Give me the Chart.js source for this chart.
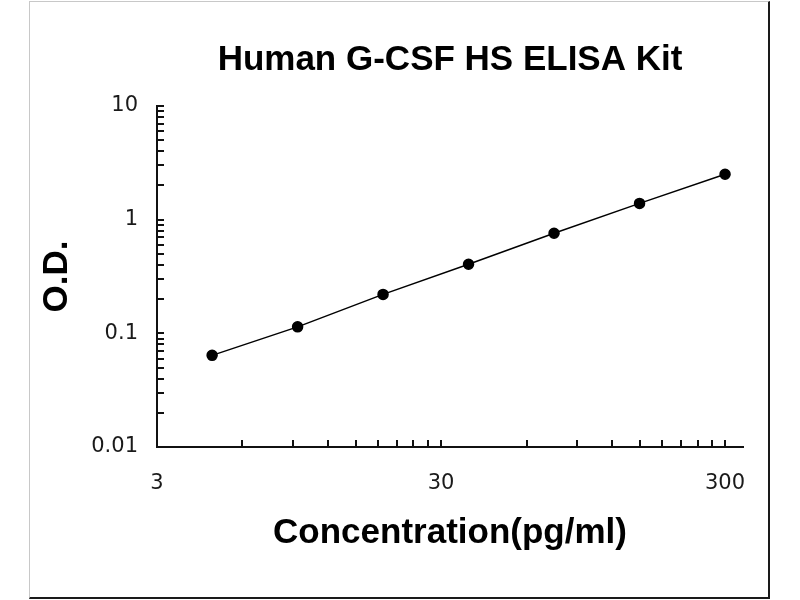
<!DOCTYPE html>
<html>
<head>
<meta charset="utf-8">
<script src="https://cdn.jsdelivr.net/npm/chart.js@4.4.1/dist/chart.umd.min.js"></script>
<style>
  body { margin: 0; background: #fff; }
  .wrap { position: relative; width: 800px; height: 600px; }
  .frame {
    position: absolute; left: 29px; top: 1px; width: 738px; height: 595px;
    border-left: 1px solid #c8c8c8; border-top: 1px solid #c8c8c8;
    border-right: 2px solid #1a1a1a; border-bottom: 2px solid #1a1a1a;
    pointer-events: none;
  }
</style>
</head>
<body>
<div class="wrap">
  <canvas id="curve" width="800" height="600"></canvas>
  <div class="frame"></div>
</div>
<script>
// standard curve
const concentrations = [4.69, 9.38, 18.75, 37.5, 75, 150, 300];
const odValues = [0.064, 0.114, 0.22, 0.405, 0.76, 1.39, 2.51];

// tick labels shown on the axes
const xTickLabels = [3, 30, 300];
const yTickLabels = [0.01, 0.1, 1, 10];

// minor tick marks, Excel style (multiples of the first label in each decade)
const xTickValues = [];
xTickLabels.forEach((base, i) => {
  xTickValues.push(base);
  if (i < xTickLabels.length - 1) {
    for (let k = 2; k <= 9; k++) xTickValues.push(base * k);
  }
});
const yTickValues = [];
yTickLabels.forEach((base, i) => {
  yTickValues.push(base);
  if (i < yTickLabels.length - 1) {
    for (let k = 2; k <= 9; k++) yTickValues.push(base * k);
  }
});

const axisColor = '#111';
const labelFont = { family: 'DejaVu Sans', size: 21 };
const titleFont = { family: "'Liberation Sans', Arial, sans-serif", size: 35, weight: 'bold' };

// tick marks point into the plot area, so draw them here from the scales
const innerTicks = {
  id: 'innerTicks',
  afterDatasetsDraw(chart) {
    const { ctx, chartArea, scales } = chart;
    const len = 7;
    ctx.save();
    ctx.strokeStyle = axisColor;
    ctx.lineWidth = 2;
    ctx.beginPath();
    xTickValues.forEach((v) => {
      const px = Math.round(scales.x.getPixelForValue(v));
      ctx.moveTo(px, chartArea.bottom);
      ctx.lineTo(px, chartArea.bottom - len);
    });
    yTickValues.forEach((v) => {
      const py = Math.round(scales.y.getPixelForValue(v));
      ctx.moveTo(chartArea.left, py);
      ctx.lineTo(chartArea.left + len, py);
    });
    ctx.stroke();
    ctx.restore();
  },
};

const makeTicks = (values) => (scale) => {
  scale.ticks = values.map((v) => ({ value: v }));
};

new Chart(document.getElementById('curve'), {
  type: 'line',
  data: {
    datasets: [
      {
        label: 'Human G-CSF HS',
        data: concentrations.map((c, i) => ({ x: c, y: odValues[i] })),
        borderColor: '#000',
        borderWidth: 1.5,
        backgroundColor: '#000',
        pointBackgroundColor: '#000',
        pointBorderColor: '#000',
        pointRadius: 5,
        tension: 0,
      },
    ],
  },
  options: {
    responsive: false,
    animation: false,
    devicePixelRatio: 1,
    layout: { padding: { left: 0, right: 57, top: 0, bottom: 0 } },
    plugins: {
      legend: { display: false },
      tooltip: { enabled: false },
      title: {
        display: true,
        text: 'Human G-CSF HS ELISA Kit',
        color: '#000',
        font: titleFont,
        fullSize: false,
        padding: { top: 39, bottom: 25 },
      },
    },
    scales: {
      x: {
        type: 'logarithmic',
        min: 3,
        max: 347,
        afterBuildTicks: makeTicks(xTickValues),
        afterFit: (scale) => { scale.height = 153; },
        grid: { display: false, drawTicks: false },
        border: { display: true, color: axisColor, width: 2 },
        ticks: {
          autoSkip: false,
          maxRotation: 0,
          padding: 24,
          color: '#1a1a1a',
          font: labelFont,
          callback: (value) => (xTickLabels.includes(value) ? String(value) : ''),
        },
        title: {
          display: true,
          text: 'Concentration(pg/ml)',
          color: '#000',
          font: { ...titleFont, lineHeight: 1 },
          padding: { top: 0, bottom: 49 },
        },
      },
      y: {
        type: 'logarithmic',
        min: 0.01,
        max: 10,
        afterBuildTicks: makeTicks(yTickValues),
        afterFit: (scale) => { scale.width = 157; },
        grid: { display: false, drawTicks: false },
        border: { display: true, color: axisColor, width: 2 },
        ticks: {
          autoSkip: false,
          padding: 19,
          color: '#1a1a1a',
          font: labelFont,
          callback: (value) => (yTickLabels.includes(value) ? String(value) : ''),
        },
        title: {
          display: true,
          text: 'O.D.',
          color: '#000',
          font: { ...titleFont, lineHeight: 1 },
          padding: { top: 40, bottom: 0 },
        },
      },
    },
  },
  plugins: [innerTicks],
});
</script>
</body>
</html>
